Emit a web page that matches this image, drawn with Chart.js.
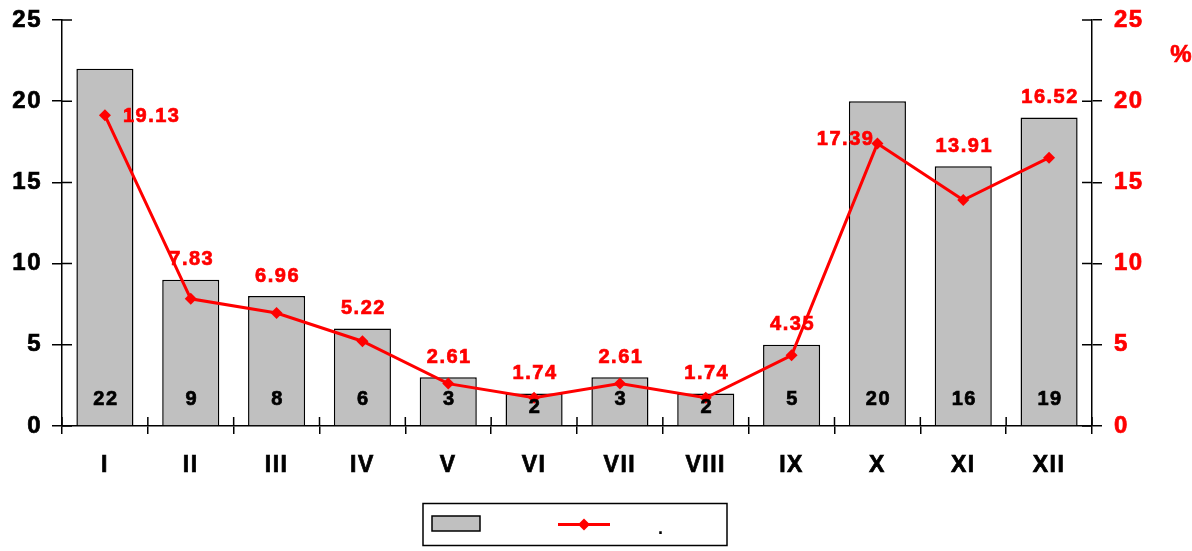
<!DOCTYPE html>
<html>
<head>
<meta charset="utf-8">
<script src="https://cdn.jsdelivr.net/npm/chart.js@4"></script>
<style>
  html, body { margin: 0; padding: 0; background: #fff; }
  #wrap { width: 1192px; height: 551px; }
</style>
</head>
<body>
<div id="wrap"><canvas id="chart" width="1192" height="551"></canvas></div>
<script>
let months = ["I","II","III","IV","V","VI","VII","VIII","IX","X","XI","XII"];
let counts = [22, 9, 8, 6, 3, 2, 3, 2, 5, 20, 16, 19];
let percents = [19.13, 7.83, 6.96, 5.22, 2.61, 1.74, 2.61, 1.74, 4.35, 17.39, 13.91, 16.52];
let countLabel = "";
let percentLabel = ".";
let axisTicks = [0, 5, 10, 15, 20, 25];

const FONT = "'Liberation Sans', Arial, sans-serif";
const RED = "#ff0000";
const SPACING = "1.5px";
const HEAVY = 0.7; // extra stroke so the bold text reads heavier

// inner half of the tick marks (chart.js only draws the outer half)
const innerTicks = {
  id: "innerTicks",
  afterDraw(chart) {
    const ctx = chart.ctx;
    const area = chart.chartArea;
    const y = chart.scales.y, x = chart.scales.x;
    const step = x.getPixelForValue(1) - x.getPixelForValue(0);
    ctx.save();
    ctx.strokeStyle = "#000";
    ctx.lineWidth = 1.5;
    ctx.beginPath();
    axisTicks.forEach(v => {
      let py = y.getPixelForValue(v);
      ctx.moveTo(area.left, py); ctx.lineTo(area.left + 10, py);
      ctx.moveTo(area.right, py); ctx.lineTo(area.right - 10, py);
    });
    for (let i = 0; i <= months.length; i++) {
      let px = x.getPixelForValue(0) - step / 2 + i * step;
      ctx.moveTo(px, area.bottom); ctx.lineTo(px, area.bottom - 9);
    }
    ctx.stroke();
    ctx.restore();
  }
};

function heavyText(ctx, txt, x, y) {
  ctx.fillText(txt, x, y);
  ctx.strokeText(txt, x, y);
}

// numbers inside the bars and red percentages near the line
const valueLabels = {
  id: "valueLabels",
  afterDatasetsDraw(chart) {
    const ctx = chart.ctx;
    const y = chart.scales.y;
    const base = y.getPixelForValue(0);
    ctx.save();
    ctx.letterSpacing = SPACING;
    ctx.lineWidth = HEAVY;
    ctx.textBaseline = "middle";
    ctx.font = "bold 20px " + FONT;
    ctx.fillStyle = ctx.strokeStyle = "#000";
    ctx.textAlign = "center";
    chart.getDatasetMeta(1).data.forEach((bar, i) => {
      let mid = (bar.y + base) / 2;
      heavyText(ctx, String(counts[i]), bar.x + 1, Math.max(base - 27, mid - 2));
    });
    ctx.fillStyle = ctx.strokeStyle = RED;
    const line = chart.getDatasetMeta(0).data;
    line.forEach((pt, i) => {
      let txt = percents[i].toFixed(2);
      if (i === 0) {
        ctx.textAlign = "left";
        heavyText(ctx, txt, pt.x + 18, pt.y + 1);
      } else if (i === 9) {
        ctx.textAlign = "right";
        heavyText(ctx, txt, pt.x - 3, pt.y - 4);
      } else {
        ctx.textAlign = "center";
        let top = Math.min(y.getPixelForValue(counts[i]), pt.y);
        heavyText(ctx, txt, pt.x + 1, top - 20);
      }
    });
    ctx.restore();
  }
};

// boxed legend under the axis, plus the % unit of the right axis
const boxLegend = {
  id: "boxLegend",
  afterDraw(chart) {
    const ctx = chart.ctx;
    const area = chart.chartArea;
    const cx = (area.left + area.right) / 2;
    const left = cx - 154, top = 503.5, w = 304, h = 42;
    ctx.save();
    ctx.strokeStyle = "#000";
    ctx.lineWidth = 1.5;
    ctx.strokeRect(left, top, w, h);
    ctx.fillStyle = "#c0c0c0";
    ctx.fillRect(left + 9, top + 12.5, 48, 15);
    ctx.strokeRect(left + 9, top + 12.5, 48, 15);
    ctx.strokeStyle = RED;
    ctx.lineWidth = 3;
    ctx.beginPath();
    ctx.moveTo(left + 135, top + 21); ctx.lineTo(left + 187, top + 21);
    ctx.stroke();
    ctx.fillStyle = RED;
    ctx.beginPath();
    let dx = left + 161, dy = top + 21;
    ctx.moveTo(dx, dy - 6); ctx.lineTo(dx + 6, dy); ctx.lineTo(dx, dy + 6); ctx.lineTo(dx - 6, dy);
    ctx.closePath(); ctx.fill();
    ctx.fillStyle = "#000";
    ctx.font = "bold 18px " + FONT;
    ctx.textAlign = "left";
    ctx.textBaseline = "middle";
    ctx.fillText(countLabel, left + 70, dy);
    ctx.fillText(percentLabel, left + 235, dy + 5);
    ctx.fillStyle = ctx.strokeStyle = RED;
    ctx.lineWidth = HEAVY;
    ctx.font = "bold 24px " + FONT;
    ctx.textAlign = "center";
    ctx.letterSpacing = "0px";
    heavyText(ctx, "%", 1181, 55);
    ctx.restore();
  }
};

const spacing = {
  id: "spacing",
  beforeLayout(chart) { chart.ctx.letterSpacing = SPACING; },
  beforeDraw(chart) { chart.ctx.letterSpacing = SPACING; }
};

new Chart(document.getElementById("chart"), {
  data: {
    labels: months,
    datasets: [{
      type: "line",
      label: percentLabel,
      data: percents,
      yAxisID: "y1",
      borderColor: RED,
      backgroundColor: RED,
      borderWidth: 3,
      pointStyle: "rectRot",
      pointRadius: 6,
      pointBorderWidth: 0,
      tension: 0,
      order: 0
    }, {
      type: "bar",
      label: countLabel,
      data: counts,
      yAxisID: "y",
      backgroundColor: "#c0c0c0",
      borderColor: "#000",
      borderWidth: 1.5,
      barPercentage: 0.665,
      categoryPercentage: 1,
      order: 1
    }]
  },
  options: {
    responsive: false,
    animation: false,
    events: [],
    layout: { padding: { top: 20, left: 0, right: 0, bottom: 0 } },
    plugins: { legend: { display: false }, tooltip: { enabled: false } },
    scales: {
      x: {
        offset: true,
        grid: { display: true, offset: true, drawOnChartArea: false, tickLength: 8, color: "#000", lineWidth: 1.5 },
        border: { display: true, color: "#000", width: 1.5 },
        ticks: { color: "#000", textStrokeColor: "#000", textStrokeWidth: HEAVY, padding: 18, font: { family: FONT, size: 23, weight: "bold" } },
        afterFit(s) { s.height = 125; }
      },
      y: {
        position: "left",
        min: 0, max: 25,
        afterBuildTicks(s) { s.ticks = axisTicks.map(v => ({ value: v })); },
        grid: { display: true, drawOnChartArea: false, tickLength: 10, color: "#000", lineWidth: 1.5 },
        border: { display: true, color: "#000", width: 1.5 },
        ticks: { color: "#000", textStrokeColor: "#000", textStrokeWidth: HEAVY, padding: 10, font: { family: FONT, size: 24, weight: "bold" } },
        afterFit(s) { s.width = 62; s.paddingTop = 0; s.paddingBottom = 0; }
      },
      y1: {
        position: "right",
        min: 0, max: 25,
        afterBuildTicks(s) { s.ticks = axisTicks.map(v => ({ value: v })); },
        grid: { display: true, drawOnChartArea: false, tickLength: 10, color: "#000", lineWidth: 1.5 },
        border: { display: true, color: "#000", width: 1.5 },
        ticks: { color: RED, textStrokeColor: RED, textStrokeWidth: HEAVY, padding: 12, font: { family: FONT, size: 24, weight: "bold" } },
        afterFit(s) { s.width = 100; s.paddingTop = 0; s.paddingBottom = 0; }
      }
    }
  },
  plugins: [spacing, innerTicks, valueLabels, boxLegend]
});
</script>
</body>
</html>
